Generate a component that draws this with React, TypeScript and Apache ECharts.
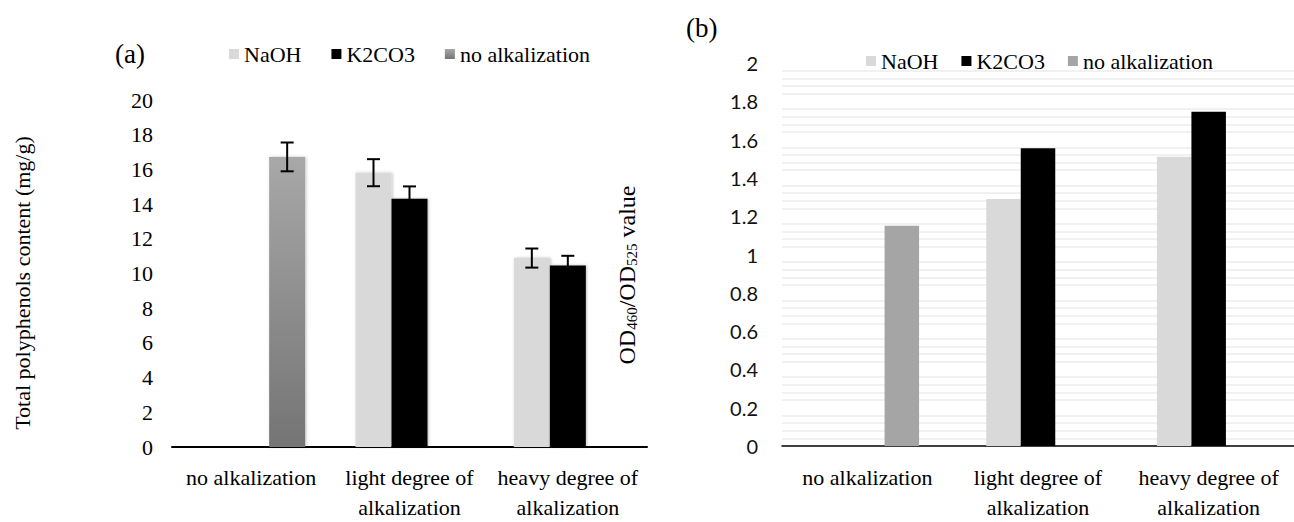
import React, { useEffect, useRef } from "react";
import * as echarts from "echarts";

const categories = ["no alkalization", "light degree of\nalkalization", "heavy degree of\nalkalization"];
const seriesNames = ["NaOH", "K2CO3", "no alkalization"];

// (a) Total polyphenols content (mg/g)
const leftNaOH = [null, 15.81, 10.89];
const leftK2CO3 = [null, 14.31, 10.46];
const leftNoAlk = [16.72, null, null];
const leftErrNaOH = [null, 0.78, 0.55];
const leftErrK2CO3 = [null, 0.71, 0.56];
const leftErrNoAlk = [0.83, null, null];

// (b) OD460/OD525 value
const rightNaOH = [null, 1.29, 1.51];
const rightK2CO3 = [null, 1.555, 1.745];
const rightNoAlk = [1.15, null, null];

const SERIF = "Liberation Serif";
const SANS = "Lato";
const LEFT_BAR_W = 36;
const RIGHT_BAR_W = 34.5;

export default function App() {
  const ref = useRef<HTMLDivElement>(null);
  useEffect(() => {
    if (!ref.current) return;
    const chart = echarts.init(ref.current, null, { renderer: "svg" });

    const noAlkGradient = new echarts.graphic.LinearGradient(0, 0, 0, 1, [
      { offset: 0, color: "#a8a8a8" },
      { offset: 1, color: "#747474" },
    ]);

    const errData: any[] = [];
    const errs = [leftErrNaOH, leftErrK2CO3, leftErrNoAlk];
    const vals = [leftNaOH, leftK2CO3, leftNoAlk];
    errs.forEach((arr, slot) => {
      arr.forEach((e, ci) => {
        if (e != null && vals[slot][ci] != null) errData.push([ci, vals[slot][ci], e, slot]);
      });
    });

    const leftShadow = { shadowBlur: 3, shadowColor: "rgba(0,0,0,0.25)", shadowOffsetX: 1, shadowOffsetY: 0 };
    const serifText = (size: number) => ({ fontFamily: SERIF, fontSize: size, color: "#000" });

    const option: any = {
      animation: false,
      backgroundColor: "#ffffff",
      textStyle: { fontFamily: SERIF },
      legend: [
        {
          left: 229,
          top: 43,
          padding: 0,
          icon: "rect",
          itemWidth: 10,
          itemHeight: 10,
          itemGap: 30,
          selectedMode: false,
          textStyle: serifText(22),
          data: [
            { name: seriesNames[0], itemStyle: { color: "#d9d9d9" } },
            { name: seriesNames[1], itemStyle: { color: "#000000" } },
            { name: seriesNames[2], itemStyle: { color: noAlkGradient } },
          ],
        },
        {
          left: 866,
          top: 50,
          padding: 0,
          icon: "rect",
          itemWidth: 10,
          itemHeight: 10,
          itemGap: 23,
          selectedMode: false,
          textStyle: serifText(22),
          data: [
            { name: seriesNames[0], itemStyle: { color: "#d9d9d9" } },
            { name: seriesNames[1], itemStyle: { color: "#000000" } },
            { name: seriesNames[2], itemStyle: { color: "#a5a5a5" } },
          ],
        },
      ],
      grid: [
        { left: 172, width: 475, top: 100, height: 355 },
        { left: 782, right: 0, top: 63, height: 399 },
      ],
      xAxis: [
        {
          type: "category",
          gridIndex: 0,
          data: categories,
          axisLine: { lineStyle: { color: "#000", width: 2 } },
          axisTick: { show: false },
          axisLabel: { ...serifText(22), lineHeight: 30, margin: 15, interval: 0 },
        },
        {
          type: "category",
          gridIndex: 1,
          data: categories,
          axisLine: { lineStyle: { color: "#000", width: 1.5 } },
          axisTick: { show: false },
          axisLabel: { ...serifText(22), lineHeight: 30, margin: 16, interval: 0 },
        },
      ],
      yAxis: [
        {
          type: "value",
          gridIndex: 0,
          min: 0,
          max: 20,
          interval: 2,
          axisLine: { show: false },
          axisTick: { show: false },
          splitLine: { show: false },
          axisLabel: { ...serifText(22), margin: 19 },
        },
        {
          type: "value",
          gridIndex: 1,
          min: 0,
          max: 2,
          interval: 0.2,
          axisLine: { show: false },
          axisTick: { show: false },
          splitLine: { show: false },
          minorTick: { show: false, splitNumber: 5 },
          minorSplitLine: { show: true, lineStyle: { color: "#ececec", width: 1.5 } },
          axisLabel: { fontFamily: SANS, fontSize: 20, color: "#111", margin: 24 },
        },
      ],
      series: [
        {
          name: seriesNames[0], type: "bar", xAxisIndex: 0, yAxisIndex: 0, data: leftNaOH,
          barWidth: LEFT_BAR_W, barGap: "0%", itemStyle: { color: "#d9d9d9", ...leftShadow },
        },
        {
          name: seriesNames[1], type: "bar", xAxisIndex: 0, yAxisIndex: 0, data: leftK2CO3,
          barWidth: LEFT_BAR_W, barGap: "0%", itemStyle: { color: "#000000", ...leftShadow },
        },
        {
          name: seriesNames[2], type: "bar", xAxisIndex: 0, yAxisIndex: 0, data: leftNoAlk,
          barWidth: LEFT_BAR_W, barGap: "0%", itemStyle: { color: noAlkGradient, ...leftShadow },
        },
        {
          name: "error", type: "custom", xAxisIndex: 0, yAxisIndex: 0, z: 5, data: errData,
          renderItem: (params: any, api: any) => {
            const ci = api.value(0);
            const v = api.value(1);
            const e = api.value(2);
            const slot = api.value(3);
            const top = api.coord([ci, v + e]);
            const bot = api.coord([ci, v - e]);
            const x = top[0] + (slot - 1) * LEFT_BAR_W;
            const cap = 6.5;
            const st = { stroke: "#000", lineWidth: 2 };
            return {
              type: "group",
              children: [
                { type: "line", shape: { x1: x, y1: top[1], x2: x, y2: bot[1] }, style: st },
                { type: "line", shape: { x1: x - cap, y1: top[1], x2: x + cap, y2: top[1] }, style: st },
                { type: "line", shape: { x1: x - cap, y1: bot[1], x2: x + cap, y2: bot[1] }, style: st },
              ],
            };
          },
        },
        {
          name: seriesNames[0], type: "bar", xAxisIndex: 1, yAxisIndex: 1, data: rightNaOH,
          barWidth: RIGHT_BAR_W, barGap: "0%", itemStyle: { color: "#d9d9d9" },
        },
        {
          name: seriesNames[1], type: "bar", xAxisIndex: 1, yAxisIndex: 1, data: rightK2CO3,
          barWidth: RIGHT_BAR_W, barGap: "0%", itemStyle: { color: "#000000" },
        },
        {
          name: seriesNames[2], type: "bar", xAxisIndex: 1, yAxisIndex: 1, data: rightNoAlk,
          barWidth: RIGHT_BAR_W, barGap: "0%", itemStyle: { color: "#a5a5a5" },
        },
      ],
      graphic: [
        {
          type: "text", left: 115, top: 40,
          style: { text: "(a)", fontFamily: SERIF, fontSize: 27, fill: "#000" },
        },
        {
          type: "text", left: 686, top: 14,
          style: { text: "(b)", fontFamily: SERIF, fontSize: 27, fill: "#000" },
        },
        {
          type: "text", x: 22, y: 283, rotation: Math.PI / 2,
          style: {
            text: "Total polyphenols content (mg/g)", fontFamily: SERIF, fontSize: 22, fill: "#000",
            align: "center", verticalAlign: "middle",
          },
        },
        {
          type: "text", x: 627, y: 275, rotation: Math.PI / 2,
          style: {
            text: "{a|OD}{s|460}{a|/OD}{s|525}{a| value}",
            align: "center", verticalAlign: "middle",
            rich: {
              a: { fontFamily: SERIF, fontSize: 24, fill: "#000", color: "#000" },
              s: { fontFamily: SERIF, fontSize: 15, fill: "#000", color: "#000", verticalAlign: "bottom" },
            },
          },
        },
      ],
    };
    chart.setOption(option);
    return () => chart.dispose();
  }, []);
  return (
    <div
      ref={ref}
      style={{ position: "absolute", left: 0, top: 0, width: 1294, height: 522, background: "#fff" }}
    />
  );
}
